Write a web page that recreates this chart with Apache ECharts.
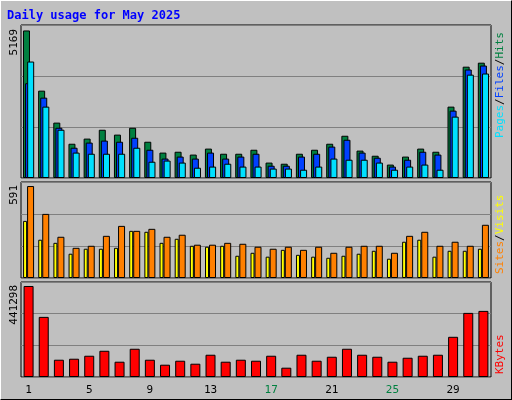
<!DOCTYPE html>
<html>
<head>
<meta charset="utf-8">
<script src="https://cdn.jsdelivr.net/npm/echarts@6/dist/echarts.min.js"></script>
<style>
  html, body { margin: 0; padding: 0; background: #c0c0c0; }
  #chart { width: 510px; height: 398px; border-left: 1px solid #fff; border-top: 1px solid #fff;
           border-right: 1px solid #000; border-bottom: 1px solid #000; }
</style>
</head>
<body>
<div id="chart"></div>
<script>
const days = Array.from({length: 31}, (_, i) => String(i + 1));
const weekends = [3, 4, 10, 11, 17, 18, 24, 25, 31];

const hits = [5169, 3060, 1940, 1200, 1380, 1690, 1520, 1760, 1270, 890, 920, 820, 1030, 850, 850, 990,
  540, 500, 850, 990, 1200, 1480, 960, 780, 470, 750, 1030, 920, 2500, 3900, 4040];
const files = [3320, 2815, 1760, 1060, 1240, 1310, 1270, 1410, 990, 680, 750, 680, 890, 680, 750, 850,
  430, 430, 750, 850, 1100, 1340, 890, 710, 400, 640, 920, 820, 2360, 3800, 3940];
const pages = [4080, 2500, 1690, 890, 850, 850, 850, 1060, 570, 610, 540, 360, 400, 500, 400, 400,
  330, 330, 290, 400, 680, 640, 640, 540, 290, 400, 470, 290, 2150, 3620, 3660];
const visits = [591, 412, 265, 194, 207, 271, 335, 303, 316, 265, 278, 214, 214, 226, 220, 201,
  188, 201, 181, 201, 162, 201, 207, 207, 162, 271, 297, 207, 233, 207, 342];
const sites = [367, 246, 226, 156, 188, 188, 194, 303, 297, 226, 252, 207, 201, 207, 143, 162,
  137, 181, 149, 137, 130, 143, 156, 175, 124, 233, 246, 137, 175, 175, 188];
const kbytes = [441298, 291500, 83750, 88600, 103100, 127200, 74100, 136900, 83750, 59600, 78900, 64400,
  107900, 74100, 83750, 78900, 103100, 45100, 107900, 78900, 98200, 136900, 107900, 98200, 74100,
  93400, 103100, 107900, 194900, 310800, 320500];

const maxHits = 5360, maxVisits = 617, maxKb = 460620;
const mono = '"DejaVu Sans Mono", monospace';

const grids = [
  {left: 20, top: 24, width: 470, height: 153},
  {left: 20, top: 181, width: 470, height: 96},
  {left: 20, top: 281, width: 470, height: 95}
].map(g => Object.assign(g, {show: true, borderColor: '#000', borderWidth: 1, backgroundColor: 'transparent'}));

const xAxes = grids.map((g, i) => ({
  type: 'category', gridIndex: i, data: days,
  axisLine: {show: false}, axisTick: {show: false},
  axisLabel: i < 2 ? {show: false} : {
    show: true, margin: 8, fontFamily: mono, fontSize: 11,
    formatter: v => weekends.includes(+v) ? '{w|' + v + '}' : '{d|' + v + '}',
    rich: {w: {color: '#008040', fontFamily: mono, fontSize: 11}, d: {color: '#000', fontFamily: mono, fontSize: 11}}
  }
}));

const yAxes = [maxHits, maxVisits, maxKb].map((m, i) => ({
  type: 'value', gridIndex: i, min: 0, max: m, interval: m / 3,
  axisLabel: {show: false}, axisLine: {show: false}, axisTick: {show: false},
  splitLine: {lineStyle: {color: '#808080', width: 1}}
}));

const bar = (name, data, color, idx, width, gap) => ({
  name, type: 'bar', data, xAxisIndex: idx, yAxisIndex: idx, barWidth: width, barGap: gap,
  itemStyle: {color, borderColor: '#000', borderWidth: 1}, animation: false
});

const side = (y, parts) => ({
  type: 'text', x: 506, y, rotation: Math.PI / 2,
  style: {
    text: parts.map(p => '{' + p[1] + '|' + p[0] + '}').join(''),
    rich: {
      hits: {fill: '#008040', fontFamily: mono, fontSize: 11},
      files: {fill: '#0040ff', fontFamily: mono, fontSize: 11},
      pages: {fill: '#00e0ff', fontFamily: mono, fontSize: 11},
      visits: {fill: '#ffff00', fontFamily: mono, fontSize: 11},
      sites: {fill: '#ff8000', fontFamily: mono, fontSize: 11},
      kb: {fill: '#ff0000', fontFamily: mono, fontSize: 11},
      sep: {fill: '#000', fontFamily: mono, fontSize: 11}
    }
  }
});

const leftLabel = (y, t) => ({
  type: 'text', x: 8, y, rotation: Math.PI / 2,
  style: {text: t, fill: '#000', fontFamily: mono, fontSize: 11, align: 'right', verticalAlign: 'top'}
});

const chart = echarts.init(document.getElementById('chart'));
chart.setOption({
  backgroundColor: '#c0c0c0',
  animation: false,
  grid: grids,
  xAxis: xAxes,
  yAxis: yAxes,
  series: [
    bar('Hits', hits, '#008040', 0, 7, '-70%'),
    bar('Files', files, '#0040ff', 0, 7, '-70%'),
    bar('Pages', pages, '#00e0ff', 0, 7, '-70%'),
    bar('Sites', sites, '#ffff00', 1, 4, '0%'),
    bar('Visits', visits, '#ff8000', 1, 7, '0%'),
    bar('KBytes', kbytes, '#ff0000', 2, 10, '0%')
  ],
  graphic: [
    {type: 'text', x: 6, y: 9, style: {text: 'Daily usage for May 2025', fill: '#0000ff',
      fontFamily: mono, fontSize: 12, fontWeight: 'bold'}},
    leftLabel(28, '5169'),
    leftLabel(184, '591'),
    leftLabel(284, '441298'),
    {type: 'text', x: 494, y: 137, rotation: Math.PI / 2, style: {
      text: '{pages|Pages}{sep|/}{files|Files}{sep|/}{hits|Hits}', verticalAlign: 'top',
      rich: side(0, []).style.rich}},
    {type: 'text', x: 494, y: 273, rotation: Math.PI / 2, style: {
      text: '{sites|Sites}{sep|/}{visits|Visits}', verticalAlign: 'top',
      rich: side(0, []).style.rich}},
    {type: 'text', x: 494, y: 373, rotation: Math.PI / 2, style: {
      text: '{kb|KBytes}', verticalAlign: 'top',
      rich: side(0, []).style.rich}}
  ]
});
</script>
</body>
</html>
